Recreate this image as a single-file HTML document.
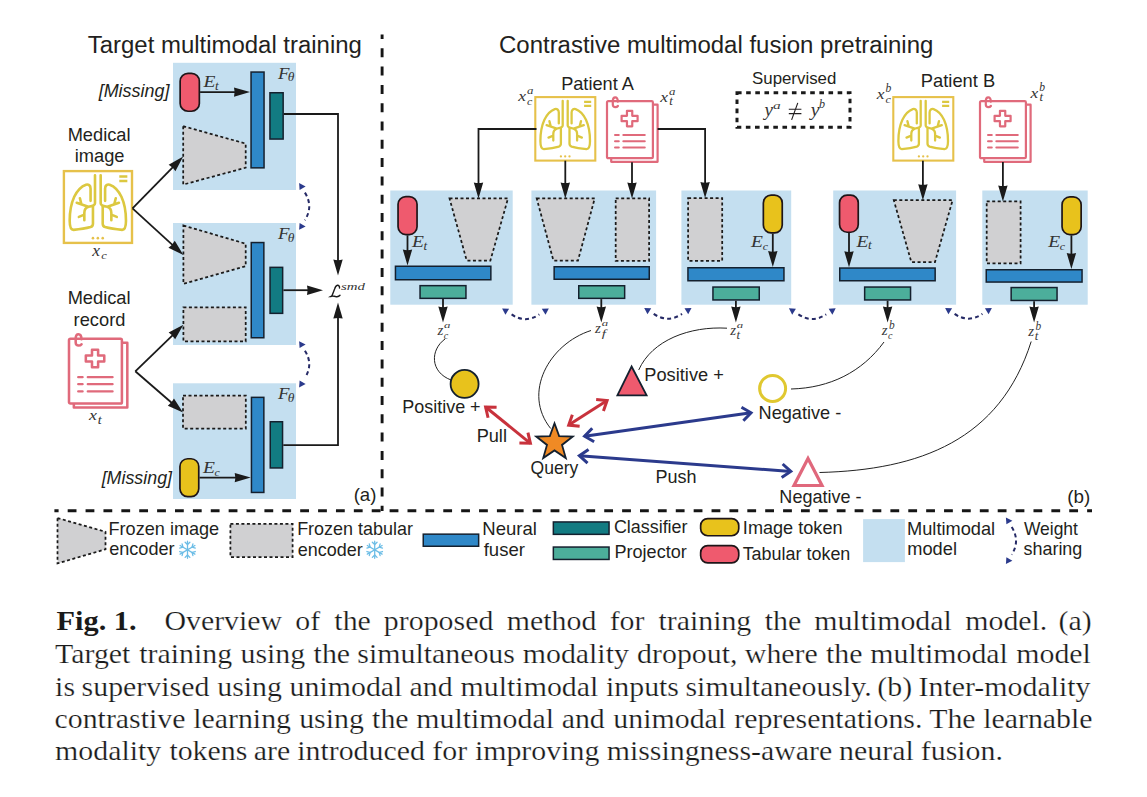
<!DOCTYPE html><html><head><meta charset="utf-8"><title>Fig. 1</title><style>
html,body{margin:0;padding:0;background:#fff;width:1147px;height:797px;overflow:hidden}
svg{display:block}
</style></head><body><svg width="1147" height="797" viewBox="0 0 1147 797"><defs><g id="lungg">
<rect x="0" y="0" width="60" height="63.5" fill="none" stroke="#e6c14a" stroke-width="2.1"/>
<g fill="none" stroke="#dcc840" stroke-width="2.3" stroke-linecap="round" stroke-linejoin="round">
<path d="M48.8,4.7 H55.9 M48.8,8.8 H55.9" stroke-linecap="butt" stroke-width="2.2"/>
<path d="M23.5,26.3 V15.5 C23.5,12.5 21.5,11.5 19.5,12 C11,15 5.1,27 5.1,44 C5.1,49.5 6,52 8.5,52 C14,51.5 20,50.5 23.5,49.5 C25,49 25.6,48 25.6,46.5 V31.4"/>
<path d="M27.4,3.7 V28.5 C27.4,30.5 25.5,31 21.5,31.6 M21.5,31.6 C19,32.5 18,34 18,37 V43.5 M21.5,31.6 L11.3,28 M15.5,29.5 L14.1,24 M18,38.5 L13.2,40.5"/>
<path d="M 36.3 26.3 V 15.5 C 36.3 12.5 38.3 11.5 40.3 12 C 48.8 15 54.7 27 54.7 44 C 54.7 49.5 53.8 52 51.3 52 C 45.8 51.5 39.8 50.5 36.3 49.5 C 34.8 49 34.2 48 34.2 46.5 V 31.4"/>
<path d="M 32.4 3.7 V 28.5 C 32.4 30.5 34.3 31 38.3 31.6 M 38.3 31.6 C 40.8 32.5 41.8 34 41.8 37 V 43.5 M 38.3 31.6 L 48.5 28 M 44.3 29.5 L 45.7 24 M 41.8 38.5 L 46.6 40.5"/>
</g>
<g fill="#e6c14a"><circle cx="25.6" cy="59.3" r="1.15"/><circle cx="29.9" cy="59.3" r="1.15"/><circle cx="34.2" cy="59.3" r="1.15"/></g>
</g><g id="recg">
<g fill="none" stroke="#e06a7b" stroke-width="2.2" stroke-linejoin="round" stroke-linecap="round">
<path d="M46,3.5 H50.6 V60.6 H4.2 V57"/>
<rect x="0" y="0" width="45.9" height="57" rx="1.2" fill="#fff"/>
<path d="M10.8,0.5 C10.8,-2.8 9.8,-3.9 8.2,-3.9 C6.6,-3.9 5.8,-2.8 5.8,0 V3.2 C5.8,5.2 6.9,6 8.3,6 C9.5,6 10.4,5.5 10.9,4.8"/>
<path d="M19.95,9.6 H25.25 V14.65 H30.6 V19.95 H25.25 V25.1 H19.95 V19.95 H14.6 V14.65 H19.95 Z"/>
<path d="M8,33.8 H11.8 M8,40 H11.8 M8,46.4 H11.8 M16.3,33.8 H37.8 M16.3,40 H37.8 M16.3,46.4 H37.8" stroke-width="2.0"/>
</g></g><g id="snowg">
<g stroke="#6cbde6" stroke-width="1.35" fill="none" stroke-linecap="round">
<path d="M0,-9 V9 M-7.8,-4.5 L7.8,4.5 M-7.8,4.5 L7.8,-4.5"/>
<path d="M-2.5,-8 L0,-5.5 L2.5,-8 M-2.5,8 L0,5.5 L2.5,8"/>
<path d="M-8.2,-1.8 L-4.8,-2.8 L-5.7,-6.2 M8.2,1.8 L4.8,2.8 L5.7,6.2"/>
<path d="M-8.2,1.8 L-4.8,2.8 L-5.7,6.2 M8.2,-1.8 L4.8,-2.8 L5.7,-6.2"/>
</g></g></defs><rect x="0.00" y="0.00" width="1147.00" height="797.00" fill="#ffffff" stroke="none" stroke-width="0" />
<text x="87.80" y="52.90" font-family='"Liberation Sans", sans-serif' font-size="23.94" fill="#231f20" style="" >Target multimodal training</text>
<rect x="173.00" y="62.80" width="123.00" height="127.20" fill="#c4dff0" stroke="none" stroke-width="0" />
<rect x="173.00" y="223.00" width="123.00" height="122.00" fill="#c4dff0" stroke="none" stroke-width="0" />
<rect x="173.00" y="383.30" width="123.00" height="115.70" fill="#c4dff0" stroke="none" stroke-width="0" />
<rect x="180.15" y="73.35" width="19.20" height="37.90" rx="7.87" ry="7.87" fill="#ef5a6e" stroke="#1e1518" stroke-width="1.7"/>
<path d="M200.10,92.10 L238.80,92.10" fill="none" stroke="#1a1a1a" stroke-width="1.8" stroke-linejoin="miter"/>
<path d="M250.00,92.10 L234.00,96.80 Q235.28,92.10 234.00,87.40 Z" fill="#1a1a1a"/>
<polygon points="183.20,126.20 245.70,143.60 245.70,167.70 183.20,184.60" fill="#d0d0d2" stroke="#1a1a1a" stroke-width="1.75" stroke-dasharray="3 2.5"/>
<rect x="251.05" y="72.05" width="13.00" height="95.80" fill="#2f88c8" stroke="#14202e" stroke-width="1.5" />
<rect x="269.95" y="92.75" width="13.20" height="46.30" fill="#127b82" stroke="#14202e" stroke-width="1.5" />
<polygon points="183.40,225.50 245.70,243.70 245.70,266.20 183.40,283.80" fill="#d0d0d2" stroke="#1a1a1a" stroke-width="1.75" stroke-dasharray="3 2.5"/>
<rect x="183.40" y="307.40" width="62.30" height="34.00" fill="#d0d0d2" stroke="#1a1a1a" stroke-width="1.75" stroke-dasharray="3 2.5"/>
<rect x="251.25" y="242.55" width="12.60" height="95.20" fill="#2f88c8" stroke="#14202e" stroke-width="1.5" />
<rect x="270.05" y="267.35" width="12.60" height="46.00" fill="#127b82" stroke="#14202e" stroke-width="1.5" />
<rect x="183.00" y="395.50" width="62.80" height="33.10" fill="#d0d0d2" stroke="#1a1a1a" stroke-width="1.75" stroke-dasharray="3 2.5"/>
<rect x="251.45" y="397.35" width="12.40" height="95.10" fill="#2f88c8" stroke="#14202e" stroke-width="1.5" />
<rect x="270.25" y="421.75" width="12.30" height="46.20" fill="#127b82" stroke="#14202e" stroke-width="1.5" />
<rect x="179.95" y="458.75" width="18.80" height="37.80" rx="7.71" ry="7.71" fill="#e8c21c" stroke="#1e1518" stroke-width="1.7"/>
<path d="M199.50,477.60 L239.50,477.60" fill="none" stroke="#1a1a1a" stroke-width="1.8" stroke-linejoin="miter"/>
<path d="M250.70,477.60 L234.70,482.30 Q235.98,477.60 234.70,472.90 Z" fill="#1a1a1a"/>
<path d="M283.90,114.00 L338.00,114.00 L338.00,264.30" fill="none" stroke="#1a1a1a" stroke-width="1.8" stroke-linejoin="miter"/>
<path d="M338.00,275.50 L333.30,259.50 Q338.00,260.78 342.70,259.50 Z" fill="#1a1a1a"/>
<path d="M283.40,290.20 L311.80,290.20" fill="none" stroke="#1a1a1a" stroke-width="1.8" stroke-linejoin="miter"/>
<path d="M323.00,290.20 L307.00,294.90 Q308.28,290.20 307.00,285.50 Z" fill="#1a1a1a"/>
<path d="M283.30,445.20 L338.00,445.20 L338.00,313.80" fill="none" stroke="#1a1a1a" stroke-width="1.8" stroke-linejoin="miter"/>
<path d="M338.00,302.60 L342.70,318.60 Q338.00,317.32 333.30,318.60 Z" fill="#1a1a1a"/>
<path d="M304.90,192.60 Q313.60,206.40 304.90,220.20" fill="none" stroke="#262a66" stroke-width="2.0" stroke-dasharray="4 3.2"/>
<polygon points="299.10,183.10 305.60,186.40 299.60,189.90" fill="#2b3a8c" stroke="none" stroke-width="0" />
<polygon points="299.10,229.70 305.60,226.40 299.60,222.90" fill="#2b3a8c" stroke="none" stroke-width="0" />
<path d="M304.90,350.70 Q313.60,364.30 304.90,377.90" fill="none" stroke="#262a66" stroke-width="2.0" stroke-dasharray="4 3.2"/>
<polygon points="299.10,341.20 305.60,344.50 299.60,348.00" fill="#2b3a8c" stroke="none" stroke-width="0" />
<polygon points="299.10,387.40 305.60,384.10 299.60,380.60" fill="#2b3a8c" stroke="none" stroke-width="0" />
<text x="67.64" y="140.80" font-family='"Liberation Sans", sans-serif' font-size="18.27" fill="#231f20" style="" >Medical</text>
<text x="74.71" y="161.80" font-family='"Liberation Sans", sans-serif' font-size="18.27" fill="#231f20" style="" >image</text>
<use href="#lungg" transform="translate(63.90,171.10) scale(1.1350,1.1307)"/>
<path d="M132.50,208.40 L175.37,164.51" fill="none" stroke="#1a1a1a" stroke-width="1.8" stroke-linejoin="miter"/>
<path d="M183.20,156.50 L175.38,171.23 Q172.91,167.03 168.66,164.66 Z" fill="#1a1a1a"/>
<path d="M132.50,208.40 L175.14,247.44" fill="none" stroke="#1a1a1a" stroke-width="1.8" stroke-linejoin="miter"/>
<path d="M183.40,255.00 L168.43,247.66 Q172.54,245.06 174.77,240.73 Z" fill="#1a1a1a"/>
<text x="67.64" y="303.80" font-family='"Liberation Sans", sans-serif' font-size="18.27" fill="#231f20" style="" >Medical</text>
<text x="73.61" y="325.80" font-family='"Liberation Sans", sans-serif' font-size="18.27" fill="#231f20" style="" >record</text>
<use href="#recg" transform="translate(69.00,338.80) scale(1.1525,1.1351)"/>
<path d="M135.30,371.30 L175.35,332.58" fill="none" stroke="#1a1a1a" stroke-width="1.8" stroke-linejoin="miter"/>
<path d="M183.40,324.80 L175.16,339.30 Q172.82,335.03 168.63,332.54 Z" fill="#1a1a1a"/>
<path d="M135.30,371.30 L174.53,405.27" fill="none" stroke="#1a1a1a" stroke-width="1.8" stroke-linejoin="miter"/>
<path d="M183.00,412.60 L167.83,405.68 Q171.87,402.96 173.98,398.57 Z" fill="#1a1a1a"/>
<text x="98.66" y="96.60" font-family='"Liberation Sans", sans-serif' font-size="17.94" fill="#231f20" style="font-style:italic;" >[Missing]</text>
<text x="101.66" y="483.80" font-family='"Liberation Sans", sans-serif' font-size="17.84" fill="#231f20" style="font-style:italic;" >[Missing]</text>
<text x="353.68" y="501.00" font-family='"Liberation Sans", sans-serif' font-size="18.64" fill="#231f20" style="" >(a)</text>
<line x1="382.10" y1="34.60" x2="382.10" y2="511.00" stroke="#151515" stroke-width="2.9" stroke-dasharray="9 9.3" stroke-dashoffset="4.6"/>
<line x1="54.40" y1="510.80" x2="1092.00" y2="510.80" stroke="#151515" stroke-width="3" stroke-dasharray="8.8 9.085" stroke-dashoffset="4.6"/>
<text x="499.00" y="52.80" font-family='"Liberation Sans", sans-serif' font-size="23.98" fill="#231f20" style="" >Contrastive multimodal fusion pretraining</text>
<text x="561.14" y="89.70" font-family='"Liberation Sans", sans-serif' font-size="18.21" fill="#231f20" style="" >Patient A</text>
<text x="920.83" y="86.90" font-family='"Liberation Sans", sans-serif' font-size="18.34" fill="#231f20" style="" >Patient B</text>
<text x="752.04" y="84.00" font-family='"Liberation Sans", sans-serif' font-size="16.85" fill="#231f20" style="" >Supervised</text>
<rect x="737.00" y="92.70" width="113.00" height="34.50" fill="none" stroke="#1a1a1a" stroke-width="3" stroke-dasharray="4.6 4.55"/>
<use href="#lungg" transform="translate(535.30,97.10) scale(1.0000,1.0000)"/>
<use href="#recg" transform="translate(607.00,101.20) scale(1.0000,1.0000)"/>
<use href="#lungg" transform="translate(893.30,97.10) scale(1.0000,1.0000)"/>
<use href="#recg" transform="translate(980.00,101.20) scale(1.0000,1.0000)"/>
<rect x="390.30" y="190.50" width="122.40" height="114.20" fill="#c4dff0" stroke="none" stroke-width="0" />
<rect x="531.40" y="190.50" width="124.70" height="114.20" fill="#c4dff0" stroke="none" stroke-width="0" />
<rect x="681.40" y="190.50" width="109.80" height="114.20" fill="#c4dff0" stroke="none" stroke-width="0" />
<rect x="833.20" y="190.50" width="122.90" height="114.20" fill="#c4dff0" stroke="none" stroke-width="0" />
<rect x="982.30" y="190.50" width="105.40" height="114.20" fill="#c4dff0" stroke="none" stroke-width="0" />
<rect x="398.05" y="196.55" width="19.00" height="38.00" rx="7.79" ry="7.79" fill="#ef5a6e" stroke="#1e1518" stroke-width="1.7"/>
<path d="M407.50,235.30 L407.50,254.30" fill="none" stroke="#1a1a1a" stroke-width="1.8" stroke-linejoin="miter"/>
<path d="M407.50,265.50 L402.80,249.50 Q407.50,250.78 412.20,249.50 Z" fill="#1a1a1a"/>
<polygon points="449.50,198.40 508.00,198.40 490.40,260.50 466.70,260.50" fill="#d0d0d2" stroke="#1a1a1a" stroke-width="1.75" stroke-dasharray="3 2.5"/>
<rect x="395.45" y="266.25" width="95.40" height="13.50" fill="#2f88c8" stroke="#14202e" stroke-width="1.5" />
<rect x="420.05" y="285.65" width="45.90" height="12.70" fill="#4cae9b" stroke="#14202e" stroke-width="1.5" />
<polygon points="536.70,198.40 594.70,198.40 578.00,260.50 553.40,260.50" fill="#d0d0d2" stroke="#1a1a1a" stroke-width="1.75" stroke-dasharray="3 2.5"/>
<rect x="615.70" y="198.40" width="33.40" height="62.40" fill="#d0d0d2" stroke="#1a1a1a" stroke-width="1.75" stroke-dasharray="3 2.5"/>
<rect x="554.15" y="266.75" width="95.10" height="12.50" fill="#2f88c8" stroke="#14202e" stroke-width="1.5" />
<rect x="578.75" y="285.75" width="45.90" height="12.60" fill="#4cae9b" stroke="#14202e" stroke-width="1.5" />
<rect x="688.10" y="198.10" width="34.10" height="62.70" fill="#d0d0d2" stroke="#1a1a1a" stroke-width="1.75" stroke-dasharray="3 2.5"/>
<rect x="763.35" y="195.15" width="18.90" height="37.70" rx="7.75" ry="7.75" fill="#e8c21c" stroke="#1e1518" stroke-width="1.7"/>
<path d="M772.80,233.60 L772.80,255.80" fill="none" stroke="#1a1a1a" stroke-width="1.8" stroke-linejoin="miter"/>
<path d="M772.80,267.00 L768.10,251.00 Q772.80,252.28 777.50,251.00 Z" fill="#1a1a1a"/>
<rect x="687.95" y="267.75" width="96.00" height="13.00" fill="#2f88c8" stroke="#14202e" stroke-width="1.5" />
<rect x="712.95" y="287.05" width="46.30" height="12.90" fill="#4cae9b" stroke="#14202e" stroke-width="1.5" />
<rect x="839.55" y="195.15" width="18.70" height="37.10" rx="7.67" ry="7.67" fill="#ef5a6e" stroke="#1e1518" stroke-width="1.7"/>
<path d="M849.00,233.00 L849.00,256.10" fill="none" stroke="#1a1a1a" stroke-width="1.8" stroke-linejoin="miter"/>
<path d="M849.00,267.30 L844.30,251.30 Q849.00,252.58 853.70,251.30 Z" fill="#1a1a1a"/>
<polygon points="893.80,200.20 952.60,200.20 935.00,262.00 911.30,262.00" fill="#d0d0d2" stroke="#1a1a1a" stroke-width="1.75" stroke-dasharray="3 2.5"/>
<rect x="839.75" y="268.05" width="95.40" height="12.70" fill="#2f88c8" stroke="#14202e" stroke-width="1.5" />
<rect x="864.65" y="287.05" width="45.90" height="12.90" fill="#4cae9b" stroke="#14202e" stroke-width="1.5" />
<rect x="986.70" y="201.40" width="33.90" height="62.00" fill="#d0d0d2" stroke="#1a1a1a" stroke-width="1.75" stroke-dasharray="3 2.5"/>
<rect x="1062.05" y="196.95" width="19.10" height="37.60" rx="7.83" ry="7.83" fill="#e8c21c" stroke="#1e1518" stroke-width="1.7"/>
<path d="M1071.40,235.30 L1071.40,257.80" fill="none" stroke="#1a1a1a" stroke-width="1.8" stroke-linejoin="miter"/>
<path d="M1071.40,269.00 L1066.70,253.00 Q1071.40,254.28 1076.10,253.00 Z" fill="#1a1a1a"/>
<rect x="986.25" y="269.75" width="95.80" height="12.30" fill="#2f88c8" stroke="#14202e" stroke-width="1.5" />
<rect x="1011.15" y="287.55" width="45.90" height="12.90" fill="#4cae9b" stroke="#14202e" stroke-width="1.5" />
<path d="M536.50,129.00 L478.50,129.00 L478.50,187.20" fill="none" stroke="#1a1a1a" stroke-width="1.8" stroke-linejoin="miter"/>
<path d="M478.50,198.40 L473.80,182.40 Q478.50,183.68 483.20,182.40 Z" fill="#1a1a1a"/>
<path d="M565.30,160.70 L565.30,187.20" fill="none" stroke="#1a1a1a" stroke-width="1.8" stroke-linejoin="miter"/>
<path d="M565.30,198.40 L560.60,182.40 Q565.30,183.68 570.00,182.40 Z" fill="#1a1a1a"/>
<path d="M632.00,162.20 L632.00,187.20" fill="none" stroke="#1a1a1a" stroke-width="1.8" stroke-linejoin="miter"/>
<path d="M632.00,198.40 L627.30,182.40 Q632.00,183.68 636.70,182.40 Z" fill="#1a1a1a"/>
<path d="M657.60,129.00 L705.10,129.00 L705.10,186.90" fill="none" stroke="#1a1a1a" stroke-width="1.8" stroke-linejoin="miter"/>
<path d="M705.10,198.10 L700.40,182.10 Q705.10,183.38 709.80,182.10 Z" fill="#1a1a1a"/>
<path d="M922.90,160.70 L922.90,189.00" fill="none" stroke="#1a1a1a" stroke-width="1.8" stroke-linejoin="miter"/>
<path d="M922.90,200.20 L918.20,184.20 Q922.90,185.48 927.60,184.20 Z" fill="#1a1a1a"/>
<path d="M1002.90,162.00 L1002.90,190.20" fill="none" stroke="#1a1a1a" stroke-width="1.8" stroke-linejoin="miter"/>
<path d="M1002.90,201.40 L998.20,185.40 Q1002.90,186.68 1007.60,185.40 Z" fill="#1a1a1a"/>
<path d="M443.00,299.10 L443.00,311.30" fill="none" stroke="#1a1a1a" stroke-width="1.8" stroke-linejoin="miter"/>
<path d="M443.00,322.50 L438.30,306.50 Q443.00,307.78 447.70,306.50 Z" fill="#1a1a1a"/>
<path d="M601.30,299.10 L601.30,311.30" fill="none" stroke="#1a1a1a" stroke-width="1.8" stroke-linejoin="miter"/>
<path d="M601.30,322.50 L596.60,306.50 Q601.30,307.78 606.00,306.50 Z" fill="#1a1a1a"/>
<path d="M735.90,300.70 L735.90,311.30" fill="none" stroke="#1a1a1a" stroke-width="1.8" stroke-linejoin="miter"/>
<path d="M735.90,322.50 L731.20,306.50 Q735.90,307.78 740.60,306.50 Z" fill="#1a1a1a"/>
<path d="M887.60,300.70 L887.60,311.30" fill="none" stroke="#1a1a1a" stroke-width="1.8" stroke-linejoin="miter"/>
<path d="M887.60,322.50 L882.90,306.50 Q887.60,307.78 892.30,306.50 Z" fill="#1a1a1a"/>
<path d="M1034.10,301.20 L1034.10,311.30" fill="none" stroke="#1a1a1a" stroke-width="1.8" stroke-linejoin="miter"/>
<path d="M1034.10,322.50 L1029.40,306.50 Q1034.10,307.78 1038.80,306.50 Z" fill="#1a1a1a"/>
<path d="M511.60,314.40 Q525.45,323.90 539.30,314.40" fill="none" stroke="#262a66" stroke-width="2.0" stroke-dasharray="4 3.2"/>
<polygon points="502.10,308.40 509.10,308.80 505.40,314.80" fill="#2b3a8c" stroke="none" stroke-width="0" />
<polygon points="548.80,308.40 541.80,308.80 545.50,314.80" fill="#2b3a8c" stroke="none" stroke-width="0" />
<path d="M653.70,313.90 Q667.85,323.40 682.00,313.90" fill="none" stroke="#262a66" stroke-width="2.0" stroke-dasharray="4 3.2"/>
<polygon points="644.20,307.90 651.20,308.30 647.50,314.30" fill="#2b3a8c" stroke="none" stroke-width="0" />
<polygon points="691.50,307.90 684.50,308.30 688.20,314.30" fill="#2b3a8c" stroke="none" stroke-width="0" />
<path d="M798.40,314.30 Q812.30,323.80 826.20,314.30" fill="none" stroke="#262a66" stroke-width="2.0" stroke-dasharray="4 3.2"/>
<polygon points="788.90,308.30 795.90,308.70 792.20,314.70" fill="#2b3a8c" stroke="none" stroke-width="0" />
<polygon points="835.70,308.30 828.70,308.70 832.40,314.70" fill="#2b3a8c" stroke="none" stroke-width="0" />
<path d="M954.60,313.90 Q968.50,323.40 982.40,313.90" fill="none" stroke="#262a66" stroke-width="2.0" stroke-dasharray="4 3.2"/>
<polygon points="945.10,307.90 952.10,308.30 948.40,314.30" fill="#2b3a8c" stroke="none" stroke-width="0" />
<polygon points="991.90,307.90 984.90,308.30 988.60,314.30" fill="#2b3a8c" stroke="none" stroke-width="0" />
<path d="M445,339 C430,350 430,372 451,380" stroke="#222" stroke-width="1" fill="none"/>
<path d="M591,330.5 C549,344 522,393 550.7,428.5" stroke="#222" stroke-width="1" fill="none"/>
<path d="M727,328.2 C690,326 652,340 638.7,370" stroke="#222" stroke-width="1" fill="none"/>
<path d="M884,342 C862,372 830,388 791,389" stroke="#222" stroke-width="1" fill="none"/>
<path d="M1031.2,341.5 C1000,440 920,470 819.5,472.5" stroke="#222" stroke-width="1" fill="none"/>
<circle cx="464.6" cy="383.9" r="14" fill="#e8c21c" stroke="#14202e" stroke-width="1.8"/>
<text x="402.16" y="412.70" font-family='"Liberation Sans", sans-serif' font-size="17.99" fill="#231f20" style="" >Positive +</text>
<polygon points="631.60,366.50 646.60,395.30 617.40,395.30" fill="#ef5a6e" stroke="#14202e" stroke-width="1.8" />
<text x="644.34" y="380.60" font-family='"Liberation Sans", sans-serif' font-size="18.23" fill="#231f20" style="" >Positive +</text>
<circle cx="772.6" cy="388.4" r="13" fill="none" stroke="#e0c830" stroke-width="3"/>
<text x="758.55" y="419.00" font-family='"Liberation Sans", sans-serif' font-size="18.17" fill="#231f20" style="" >Negative -</text>
<polygon points="808.00,458.50 822.00,485.50 794.00,485.50" fill="none" stroke="#e0687c" stroke-width="3.2" />
<text x="779.36" y="503.00" font-family='"Liberation Sans", sans-serif' font-size="18.04" fill="#231f20" style="" >Negative -</text>
<polygon points="554.50,423.30 559.14,436.11 572.76,436.57 562.01,444.94 565.79,458.03 554.50,450.40 543.21,458.03 546.99,444.94 536.24,436.57 549.86,436.11" fill="#f08a24" stroke="#14202e" stroke-width="1.8" />
<text x="530.61" y="474.20" font-family='"Liberation Sans", sans-serif' font-size="17.53" fill="#231f20" style="" >Query</text>
<text x="476.64" y="442.20" font-family='"Liberation Sans", sans-serif' font-size="18.22" fill="#231f20" style="" >Pull</text>
<text x="655.56" y="482.60" font-family='"Liberation Sans", sans-serif' font-size="18.03" fill="#231f20" style="" >Push</text>
<line x1="485.60" y1="407.00" x2="530.40" y2="443.30" stroke="#c8323c" stroke-width="3" />
<path d="M527.93,432.58 L530.40,443.30 L519.40,443.10" fill="none" stroke="#c8323c" stroke-width="3" stroke-linejoin="miter" stroke-linecap="butt"/>
<path d="M488.07,417.72 L485.60,407.00 L496.60,407.20" fill="none" stroke="#c8323c" stroke-width="3" stroke-linejoin="miter" stroke-linecap="butt"/>
<line x1="568.70" y1="425.10" x2="607.10" y2="400.60" stroke="#c8323c" stroke-width="3" />
<path d="M596.15,399.55 L607.10,400.60 L603.44,410.97" fill="none" stroke="#c8323c" stroke-width="3" stroke-linejoin="miter" stroke-linecap="butt"/>
<path d="M579.65,426.15 L568.70,425.10 L572.36,414.73" fill="none" stroke="#c8323c" stroke-width="3" stroke-linejoin="miter" stroke-linecap="butt"/>
<line x1="584.60" y1="436.20" x2="751.00" y2="412.80" stroke="#2b3a8c" stroke-width="3" />
<path d="M741.47,407.30 L751.00,412.80 L743.36,420.71" fill="none" stroke="#2b3a8c" stroke-width="3" stroke-linejoin="miter" stroke-linecap="butt"/>
<path d="M594.13,441.70 L584.60,436.20 L592.24,428.29" fill="none" stroke="#2b3a8c" stroke-width="3" stroke-linejoin="miter" stroke-linecap="butt"/>
<line x1="579.40" y1="455.70" x2="790.80" y2="471.40" stroke="#2b3a8c" stroke-width="3" />
<path d="M782.66,464.00 L790.80,471.40 L781.65,477.51" fill="none" stroke="#2b3a8c" stroke-width="3" stroke-linejoin="miter" stroke-linecap="butt"/>
<path d="M587.54,463.10 L579.40,455.70 L588.55,449.59" fill="none" stroke="#2b3a8c" stroke-width="3" stroke-linejoin="miter" stroke-linecap="butt"/>
<text x="1067.17" y="503.00" font-family='"Liberation Sans", sans-serif' font-size="18.82" fill="#231f20" style="" >(b)</text>
<polygon points="57.50,518.00 105.50,531.80 105.50,549.30 57.50,563.40" fill="#d0d0d2" stroke="#1a1a1a" stroke-width="1.75" stroke-dasharray="3 2.5"/>
<text x="108.55" y="534.80" font-family='"Liberation Sans", sans-serif' font-size="18.10" fill="#231f20" style="" >Frozen image</text>
<text x="109.19" y="555.20" font-family='"Liberation Sans", sans-serif' font-size="18.10" fill="#231f20" style="" >encoder</text>
<use href="#snowg" transform="translate(187.50,549.80) scale(0.950)"/>
<rect x="230.40" y="523.90" width="62.20" height="33.20" fill="#d0d0d2" stroke="#1a1a1a" stroke-width="1.75" stroke-dasharray="3 2.5"/>
<text x="297.16" y="535.20" font-family='"Liberation Sans", sans-serif' font-size="17.97" fill="#231f20" style="" >Frozen tabular</text>
<text x="297.79" y="555.60" font-family='"Liberation Sans", sans-serif' font-size="17.97" fill="#231f20" style="" >encoder</text>
<use href="#snowg" transform="translate(374.70,549.80) scale(0.950)"/>
<rect x="423.25" y="534.15" width="55.40" height="12.10" fill="#2f88c8" stroke="#14202e" stroke-width="1.5" />
<text x="482.32" y="535.00" font-family='"Liberation Sans", sans-serif' font-size="18.54" fill="#231f20" style="" >Neural</text>
<text x="483.72" y="555.60" font-family='"Liberation Sans", sans-serif' font-size="18.54" fill="#231f20" style="" >fuser</text>
<rect x="553.35" y="521.95" width="55.70" height="12.40" fill="#127b82" stroke="#14202e" stroke-width="1.5" />
<rect x="553.35" y="547.05" width="55.70" height="12.40" fill="#4cae9b" stroke="#14202e" stroke-width="1.5" />
<text x="613.90" y="532.90" font-family='"Liberation Sans", sans-serif' font-size="17.92" fill="#231f20" style="" >Classifier</text>
<text x="614.45" y="558.00" font-family='"Liberation Sans", sans-serif' font-size="18.08" fill="#231f20" style="" >Projector</text>
<rect x="700.65" y="518.55" width="38.10" height="17.20" rx="7.05" ry="7.05" fill="#e8c21c" stroke="#1e1518" stroke-width="1.7"/>
<rect x="700.65" y="545.65" width="38.10" height="17.20" rx="7.05" ry="7.05" fill="#ef5a6e" stroke="#1e1518" stroke-width="1.7"/>
<text x="742.87" y="533.70" font-family='"Liberation Sans", sans-serif' font-size="18.11" fill="#231f20" style="" >Image token</text>
<text x="742.65" y="559.70" font-family='"Liberation Sans", sans-serif' font-size="17.94" fill="#231f20" style="" >Tabular token</text>
<rect x="863.10" y="519.10" width="41.80" height="43.00" fill="#c4dff0" stroke="none" stroke-width="0" />
<text x="907.04" y="535.00" font-family='"Liberation Sans", sans-serif' font-size="18.23" fill="#231f20" style="" >Multimodal</text>
<text x="907.32" y="555.30" font-family='"Liberation Sans", sans-serif' font-size="18.23" fill="#231f20" style="" >model</text>
<path d="M1011.70,527.00 Q1020.40,540.80 1011.70,554.60" fill="none" stroke="#262a66" stroke-width="2.0" stroke-dasharray="4 3.2"/>
<polygon points="1005.90,517.50 1012.40,520.80 1006.40,524.30" fill="#2b3a8c" stroke="none" stroke-width="0" />
<polygon points="1005.90,564.10 1012.40,560.80 1006.40,557.30" fill="#2b3a8c" stroke="none" stroke-width="0" />
<text x="1023.91" y="535.00" font-family='"Liberation Sans", sans-serif' font-size="17.47" fill="#231f20" style="" >Weight</text>
<text x="1023.46" y="555.30" font-family='"Liberation Sans", sans-serif' font-size="17.96" fill="#231f20" style="" >sharing</text>
<text x="56.55" y="630.1" font-family='"Liberation Serif", serif' font-weight="bold" font-size="26.9" fill="#1a1a1a" textLength="80.0" lengthAdjust="spacingAndGlyphs">Fig. 1.</text>
<text x="164.41" y="630.1" font-family='"Liberation Serif", serif' font-size="26.9" fill="#1a1a1a" stroke="#fff" stroke-width="0.22" textLength="117.73" lengthAdjust="spacingAndGlyphs">Overview</text>
<text x="295.29" y="630.1" font-family='"Liberation Serif", serif' font-size="26.9" fill="#1a1a1a" stroke="#fff" stroke-width="0.22" textLength="24.87" lengthAdjust="spacingAndGlyphs">of</text>
<text x="334.36" y="630.1" font-family='"Liberation Serif", serif' font-size="26.9" fill="#1a1a1a" stroke="#fff" stroke-width="0.22" textLength="36.48" lengthAdjust="spacingAndGlyphs">the</text>
<text x="383.87" y="630.1" font-family='"Liberation Serif", serif' font-size="26.9" fill="#1a1a1a" stroke="#fff" stroke-width="0.22" textLength="109.46" lengthAdjust="spacingAndGlyphs">proposed</text>
<text x="506.85" y="630.1" font-family='"Liberation Serif", serif' font-size="26.9" fill="#1a1a1a" stroke="#fff" stroke-width="0.22" textLength="89.56" lengthAdjust="spacingAndGlyphs">method</text>
<text x="609.66" y="630.1" font-family='"Liberation Serif", serif' font-size="26.9" fill="#1a1a1a" stroke="#fff" stroke-width="0.22" textLength="34.82" lengthAdjust="spacingAndGlyphs">for</text>
<text x="658.43" y="630.1" font-family='"Liberation Serif", serif' font-size="26.9" fill="#1a1a1a" stroke="#fff" stroke-width="0.22" textLength="92.87" lengthAdjust="spacingAndGlyphs">training</text>
<text x="764.83" y="630.1" font-family='"Liberation Serif", serif' font-size="26.9" fill="#1a1a1a" stroke="#fff" stroke-width="0.22" textLength="36.48" lengthAdjust="spacingAndGlyphs">the</text>
<text x="814.20" y="630.1" font-family='"Liberation Serif", serif' font-size="26.9" fill="#1a1a1a" stroke="#fff" stroke-width="0.22" textLength="137.67" lengthAdjust="spacingAndGlyphs">multimodal</text>
<text x="965.24" y="630.1" font-family='"Liberation Serif", serif' font-size="26.9" fill="#1a1a1a" stroke="#fff" stroke-width="0.22" textLength="82.10" lengthAdjust="spacingAndGlyphs">model.</text>
<text x="1058.50" y="630.1" font-family='"Liberation Serif", serif' font-size="26.9" fill="#1a1a1a" stroke="#fff" stroke-width="0.22" textLength="33.14" lengthAdjust="spacingAndGlyphs">(a)</text>
<text x="55.10" y="662.8" font-family='"Liberation Serif", serif' font-size="26.9" fill="#1a1a1a" stroke="#fff" stroke-width="0.22" textLength="75.29" lengthAdjust="spacingAndGlyphs">Target</text>
<text x="139.29" y="662.8" font-family='"Liberation Serif", serif' font-size="26.9" fill="#1a1a1a" stroke="#fff" stroke-width="0.22" textLength="92.87" lengthAdjust="spacingAndGlyphs">training</text>
<text x="240.49" y="662.8" font-family='"Liberation Serif", serif' font-size="26.9" fill="#1a1a1a" stroke="#fff" stroke-width="0.22" textLength="64.70" lengthAdjust="spacingAndGlyphs">using</text>
<text x="313.63" y="662.8" font-family='"Liberation Serif", serif' font-size="26.9" fill="#1a1a1a" stroke="#fff" stroke-width="0.22" textLength="36.48" lengthAdjust="spacingAndGlyphs">the</text>
<text x="357.36" y="662.8" font-family='"Liberation Serif", serif' font-size="26.9" fill="#1a1a1a" stroke="#fff" stroke-width="0.22" textLength="157.57" lengthAdjust="spacingAndGlyphs">simultaneous</text>
<text x="522.76" y="662.8" font-family='"Liberation Serif", serif' font-size="26.9" fill="#1a1a1a" stroke="#fff" stroke-width="0.22" textLength="106.15" lengthAdjust="spacingAndGlyphs">modality</text>
<text x="637.11" y="662.8" font-family='"Liberation Serif", serif' font-size="26.9" fill="#1a1a1a" stroke="#fff" stroke-width="0.22" textLength="100.35" lengthAdjust="spacingAndGlyphs">dropout,</text>
<text x="744.88" y="662.8" font-family='"Liberation Serif", serif' font-size="26.9" fill="#1a1a1a" stroke="#fff" stroke-width="0.22" textLength="72.94" lengthAdjust="spacingAndGlyphs">where</text>
<text x="825.93" y="662.8" font-family='"Liberation Serif", serif' font-size="26.9" fill="#1a1a1a" stroke="#fff" stroke-width="0.22" textLength="36.48" lengthAdjust="spacingAndGlyphs">the</text>
<text x="870.26" y="662.8" font-family='"Liberation Serif", serif' font-size="26.9" fill="#1a1a1a" stroke="#fff" stroke-width="0.22" textLength="137.67" lengthAdjust="spacingAndGlyphs">multimodal</text>
<text x="1016.25" y="662.8" font-family='"Liberation Serif", serif' font-size="26.9" fill="#1a1a1a" stroke="#fff" stroke-width="0.22" textLength="74.63" lengthAdjust="spacingAndGlyphs">model</text>
<text x="55.10" y="695.5" font-family='"Liberation Serif", serif' font-size="26.9" fill="#1a1a1a" stroke="#fff" stroke-width="0.22" textLength="19.91" lengthAdjust="spacingAndGlyphs">is</text>
<text x="81.63" y="695.5" font-family='"Liberation Serif", serif' font-size="26.9" fill="#1a1a1a" stroke="#fff" stroke-width="0.22" textLength="127.70" lengthAdjust="spacingAndGlyphs">supervised</text>
<text x="217.28" y="695.5" font-family='"Liberation Serif", serif' font-size="26.9" fill="#1a1a1a" stroke="#fff" stroke-width="0.22" textLength="64.70" lengthAdjust="spacingAndGlyphs">using</text>
<text x="289.64" y="695.5" font-family='"Liberation Serif", serif' font-size="26.9" fill="#1a1a1a" stroke="#fff" stroke-width="0.22" textLength="112.79" lengthAdjust="spacingAndGlyphs">unimodal</text>
<text x="409.62" y="695.5" font-family='"Liberation Serif", serif' font-size="26.9" fill="#1a1a1a" stroke="#fff" stroke-width="0.22" textLength="43.11" lengthAdjust="spacingAndGlyphs">and</text>
<text x="460.63" y="695.5" font-family='"Liberation Serif", serif' font-size="26.9" fill="#1a1a1a" stroke="#fff" stroke-width="0.22" textLength="137.67" lengthAdjust="spacingAndGlyphs">multimodal</text>
<text x="605.99" y="695.5" font-family='"Liberation Serif", serif' font-size="26.9" fill="#1a1a1a" stroke="#fff" stroke-width="0.22" textLength="73.00" lengthAdjust="spacingAndGlyphs">inputs</text>
<text x="685.51" y="695.5" font-family='"Liberation Serif", serif' font-size="26.9" fill="#1a1a1a" stroke="#fff" stroke-width="0.22" textLength="186.32" lengthAdjust="spacingAndGlyphs">simultaneously.</text>
<text x="877.31" y="695.5" font-family='"Liberation Serif", serif' font-size="26.9" fill="#1a1a1a" stroke="#fff" stroke-width="0.22" textLength="34.82" lengthAdjust="spacingAndGlyphs">(b)</text>
<text x="918.61" y="695.5" font-family='"Liberation Serif", serif' font-size="26.9" fill="#1a1a1a" stroke="#fff" stroke-width="0.22" textLength="171.86" lengthAdjust="spacingAndGlyphs">Inter-modality</text>
<text x="54.51" y="728.2" font-family='"Liberation Serif", serif' font-size="26.9" fill="#1a1a1a" stroke="#fff" stroke-width="0.22" textLength="130.99" lengthAdjust="spacingAndGlyphs">contrastive</text>
<text x="193.18" y="728.2" font-family='"Liberation Serif", serif' font-size="26.9" fill="#1a1a1a" stroke="#fff" stroke-width="0.22" textLength="97.83" lengthAdjust="spacingAndGlyphs">learning</text>
<text x="299.15" y="728.2" font-family='"Liberation Serif", serif' font-size="26.9" fill="#1a1a1a" stroke="#fff" stroke-width="0.22" textLength="64.70" lengthAdjust="spacingAndGlyphs">using</text>
<text x="372.14" y="728.2" font-family='"Liberation Serif", serif' font-size="26.9" fill="#1a1a1a" stroke="#fff" stroke-width="0.22" textLength="36.48" lengthAdjust="spacingAndGlyphs">the</text>
<text x="416.30" y="728.2" font-family='"Liberation Serif", serif' font-size="26.9" fill="#1a1a1a" stroke="#fff" stroke-width="0.22" textLength="137.67" lengthAdjust="spacingAndGlyphs">multimodal</text>
<text x="561.69" y="728.2" font-family='"Liberation Serif", serif' font-size="26.9" fill="#1a1a1a" stroke="#fff" stroke-width="0.22" textLength="43.11" lengthAdjust="spacingAndGlyphs">and</text>
<text x="613.33" y="728.2" font-family='"Liberation Serif", serif' font-size="26.9" fill="#1a1a1a" stroke="#fff" stroke-width="0.22" textLength="112.79" lengthAdjust="spacingAndGlyphs">unimodal</text>
<text x="734.23" y="728.2" font-family='"Liberation Serif", serif' font-size="26.9" fill="#1a1a1a" stroke="#fff" stroke-width="0.22" textLength="188.21" lengthAdjust="spacingAndGlyphs">representations.</text>
<text x="929.19" y="728.2" font-family='"Liberation Serif", serif' font-size="26.9" fill="#1a1a1a" stroke="#fff" stroke-width="0.22" textLength="46.42" lengthAdjust="spacingAndGlyphs">The</text>
<text x="983.21" y="728.2" font-family='"Liberation Serif", serif' font-size="26.9" fill="#1a1a1a" stroke="#fff" stroke-width="0.22" textLength="109.40" lengthAdjust="spacingAndGlyphs">learnable</text>
<text x="55.10" y="760.3" font-family='"Liberation Serif", serif' font-size="26.9" fill="#1a1a1a" stroke="#fff" stroke-width="0.22" textLength="106.15" lengthAdjust="spacingAndGlyphs">modality</text>
<text x="169.40" y="760.3" font-family='"Liberation Serif", serif' font-size="26.9" fill="#1a1a1a" stroke="#fff" stroke-width="0.22" textLength="77.96" lengthAdjust="spacingAndGlyphs">tokens</text>
<text x="253.85" y="760.3" font-family='"Liberation Serif", serif' font-size="26.9" fill="#1a1a1a" stroke="#fff" stroke-width="0.22" textLength="36.45" lengthAdjust="spacingAndGlyphs">are</text>
<text x="297.23" y="760.3" font-family='"Liberation Serif", serif' font-size="26.9" fill="#1a1a1a" stroke="#fff" stroke-width="0.22" textLength="127.69" lengthAdjust="spacingAndGlyphs">introduced</text>
<text x="432.28" y="760.3" font-family='"Liberation Serif", serif' font-size="26.9" fill="#1a1a1a" stroke="#fff" stroke-width="0.22" textLength="34.82" lengthAdjust="spacingAndGlyphs">for</text>
<text x="474.92" y="760.3" font-family='"Liberation Serif", serif' font-size="26.9" fill="#1a1a1a" stroke="#fff" stroke-width="0.22" textLength="124.41" lengthAdjust="spacingAndGlyphs">improving</text>
<text x="606.69" y="760.3" font-family='"Liberation Serif", serif' font-size="26.9" fill="#1a1a1a" stroke="#fff" stroke-width="0.22" textLength="225.54" lengthAdjust="spacingAndGlyphs">missingness-aware</text>
<text x="839.08" y="760.3" font-family='"Liberation Serif", serif' font-size="26.9" fill="#1a1a1a" stroke="#fff" stroke-width="0.22" textLength="74.60" lengthAdjust="spacingAndGlyphs">neural</text>
<text x="920.84" y="760.3" font-family='"Liberation Serif", serif' font-size="26.9" fill="#1a1a1a" stroke="#fff" stroke-width="0.22" textLength="82.11" lengthAdjust="spacingAndGlyphs">fusion.</text>
<text x="203.50" y="87.30" font-family='"Liberation Serif", serif' font-size="17.10" fill="#333" style="font-style:italic;" textLength="11.91" lengthAdjust="spacingAndGlyphs" >E</text>
<text x="215.01" y="89.58" font-family='"Liberation Serif", serif' font-size="11.83" fill="#333" style="font-style:italic;" textLength="3.67" lengthAdjust="spacingAndGlyphs" >t</text>
<text x="202.90" y="473.10" font-family='"Liberation Serif", serif' font-size="17.10" fill="#333" style="font-style:italic;" textLength="11.91" lengthAdjust="spacingAndGlyphs" >E</text>
<text x="214.54" y="475.59" font-family='"Liberation Serif", serif' font-size="10.63" fill="#333" style="font-style:italic;" textLength="5.26" lengthAdjust="spacingAndGlyphs" >c</text>
<text x="412.10" y="247.40" font-family='"Liberation Serif", serif' font-size="17.10" fill="#333" style="font-style:italic;" textLength="11.91" lengthAdjust="spacingAndGlyphs" >E</text>
<text x="423.61" y="249.68" font-family='"Liberation Serif", serif' font-size="11.83" fill="#333" style="font-style:italic;" textLength="3.67" lengthAdjust="spacingAndGlyphs" >t</text>
<text x="751.10" y="247.20" font-family='"Liberation Serif", serif' font-size="17.10" fill="#333" style="font-style:italic;" textLength="11.91" lengthAdjust="spacingAndGlyphs" >E</text>
<text x="762.74" y="249.69" font-family='"Liberation Serif", serif' font-size="10.63" fill="#333" style="font-style:italic;" textLength="5.26" lengthAdjust="spacingAndGlyphs" >c</text>
<text x="856.50" y="247.20" font-family='"Liberation Serif", serif' font-size="17.10" fill="#333" style="font-style:italic;" textLength="11.91" lengthAdjust="spacingAndGlyphs" >E</text>
<text x="868.01" y="249.48" font-family='"Liberation Serif", serif' font-size="11.83" fill="#333" style="font-style:italic;" textLength="3.67" lengthAdjust="spacingAndGlyphs" >t</text>
<text x="1048.20" y="247.20" font-family='"Liberation Serif", serif' font-size="17.10" fill="#333" style="font-style:italic;" textLength="11.91" lengthAdjust="spacingAndGlyphs" >E</text>
<text x="1059.84" y="249.69" font-family='"Liberation Serif", serif' font-size="10.63" fill="#333" style="font-style:italic;" textLength="5.26" lengthAdjust="spacingAndGlyphs" >c</text>
<text x="278.09" y="78.60" font-family='"Liberation Serif", serif' font-size="16.95" fill="#333" style="font-style:italic;" textLength="11.44" lengthAdjust="spacingAndGlyphs" >F</text>
<text x="287.72" y="81.48" font-family='"Liberation Serif", serif' font-size="11.55" fill="#333" style="font-style:italic;" textLength="6.67" lengthAdjust="spacingAndGlyphs" >θ</text>
<text x="278.09" y="239.00" font-family='"Liberation Serif", serif' font-size="16.95" fill="#333" style="font-style:italic;" textLength="11.44" lengthAdjust="spacingAndGlyphs" >F</text>
<text x="287.72" y="241.88" font-family='"Liberation Serif", serif' font-size="11.55" fill="#333" style="font-style:italic;" textLength="6.67" lengthAdjust="spacingAndGlyphs" >θ</text>
<text x="278.09" y="399.10" font-family='"Liberation Serif", serif' font-size="16.95" fill="#333" style="font-style:italic;" textLength="11.44" lengthAdjust="spacingAndGlyphs" >F</text>
<text x="287.72" y="401.98" font-family='"Liberation Serif", serif' font-size="11.55" fill="#333" style="font-style:italic;" textLength="6.67" lengthAdjust="spacingAndGlyphs" >θ</text>
<text x="92.28" y="255.50" font-family='"Liberation Serif", serif' font-size="15.65" fill="#333" style="font-style:italic;" textLength="7.78" lengthAdjust="spacingAndGlyphs" >x</text>
<text x="101.22" y="259.49" font-family='"Liberation Serif", serif' font-size="11.04" fill="#333" style="font-style:italic;" textLength="5.59" lengthAdjust="spacingAndGlyphs" >c</text>
<text x="89.08" y="419.70" font-family='"Liberation Serif", serif' font-size="15.00" fill="#333" style="font-style:italic;" textLength="7.98" lengthAdjust="spacingAndGlyphs" >x</text>
<text x="97.87" y="423.69" font-family='"Liberation Serif", serif' font-size="11.48" fill="#333" style="font-style:italic;" textLength="3.89" lengthAdjust="spacingAndGlyphs" >t</text>
<text x="518.18" y="100.90" font-family='"Liberation Serif", serif' font-size="15.00" fill="#333" style="font-style:italic;" textLength="7.78" lengthAdjust="spacingAndGlyphs" >x</text>
<text x="527.02" y="94.30" font-family='"Liberation Serif", serif' font-size="10.00" fill="#333" style="font-style:italic;" textLength="6.40" lengthAdjust="spacingAndGlyphs" >a</text>
<text x="527.04" y="104.70" font-family='"Liberation Serif", serif' font-size="10.00" fill="#333" style="font-style:italic;" textLength="5.37" lengthAdjust="spacingAndGlyphs" >c</text>
<text x="660.28" y="101.60" font-family='"Liberation Serif", serif' font-size="15.00" fill="#333" style="font-style:italic;" textLength="7.78" lengthAdjust="spacingAndGlyphs" >x</text>
<text x="669.12" y="95.00" font-family='"Liberation Serif", serif' font-size="10.00" fill="#333" style="font-style:italic;" textLength="6.40" lengthAdjust="spacingAndGlyphs" >a</text>
<text x="669.32" y="104.98" font-family='"Liberation Serif", serif' font-size="11.83" fill="#333" style="font-style:italic;" textLength="3.56" lengthAdjust="spacingAndGlyphs" >t</text>
<text x="876.78" y="99.10" font-family='"Liberation Serif", serif' font-size="15.00" fill="#333" style="font-style:italic;" textLength="7.78" lengthAdjust="spacingAndGlyphs" >x</text>
<text x="885.53" y="92.08" font-family='"Liberation Serif", serif' font-size="11.91" fill="#333" style="font-style:italic;" textLength="5.81" lengthAdjust="spacingAndGlyphs" >b</text>
<text x="885.64" y="102.90" font-family='"Liberation Serif", serif' font-size="10.00" fill="#333" style="font-style:italic;" textLength="5.37" lengthAdjust="spacingAndGlyphs" >c</text>
<text x="1030.48" y="97.60" font-family='"Liberation Serif", serif' font-size="15.00" fill="#333" style="font-style:italic;" textLength="7.78" lengthAdjust="spacingAndGlyphs" >x</text>
<text x="1039.23" y="90.58" font-family='"Liberation Serif", serif' font-size="11.91" fill="#333" style="font-style:italic;" textLength="5.81" lengthAdjust="spacingAndGlyphs" >b</text>
<text x="1039.52" y="100.98" font-family='"Liberation Serif", serif' font-size="11.83" fill="#333" style="font-style:italic;" textLength="3.56" lengthAdjust="spacingAndGlyphs" >t</text>
<text x="437.45" y="334.60" font-family='"Liberation Serif", serif' font-size="15.43" fill="#3a3a3a" style="font-style:italic;" textLength="5.86" lengthAdjust="spacingAndGlyphs" >z</text>
<text x="444.12" y="327.51" font-family='"Liberation Serif", serif' font-size="8.54" fill="#3a3a3a" style="font-style:italic;" textLength="6.40" lengthAdjust="spacingAndGlyphs" >a</text>
<text x="443.70" y="338.60" font-family='"Liberation Serif", serif' font-size="10.21" fill="#3a3a3a" style="font-style:italic;" textLength="4.49" lengthAdjust="spacingAndGlyphs" >c</text>
<text x="595.05" y="333.40" font-family='"Liberation Serif", serif' font-size="15.43" fill="#3a3a3a" style="font-style:italic;" textLength="5.86" lengthAdjust="spacingAndGlyphs" >z</text>
<text x="601.72" y="326.31" font-family='"Liberation Serif", serif' font-size="8.54" fill="#3a3a3a" style="font-style:italic;" textLength="6.40" lengthAdjust="spacingAndGlyphs" >a</text>
<text x="601.85" y="337.12" font-family='"Liberation Serif", serif' font-size="11.09" fill="#3a3a3a" style="font-style:italic;" textLength="4.17" lengthAdjust="spacingAndGlyphs" >f</text>
<text x="730.15" y="334.60" font-family='"Liberation Serif", serif' font-size="15.43" fill="#3a3a3a" style="font-style:italic;" textLength="5.86" lengthAdjust="spacingAndGlyphs" >z</text>
<text x="736.82" y="327.51" font-family='"Liberation Serif", serif' font-size="8.54" fill="#3a3a3a" style="font-style:italic;" textLength="6.40" lengthAdjust="spacingAndGlyphs" >a</text>
<text x="736.62" y="338.58" font-family='"Liberation Serif", serif' font-size="11.83" fill="#3a3a3a" style="font-style:italic;" textLength="3.56" lengthAdjust="spacingAndGlyphs" >t</text>
<text x="881.85" y="335.20" font-family='"Liberation Serif", serif' font-size="15.43" fill="#3a3a3a" style="font-style:italic;" textLength="5.86" lengthAdjust="spacingAndGlyphs" >z</text>
<text x="888.94" y="329.09" font-family='"Liberation Serif", serif' font-size="11.49" fill="#3a3a3a" style="font-style:italic;" textLength="5.70" lengthAdjust="spacingAndGlyphs" >b</text>
<text x="888.10" y="339.20" font-family='"Liberation Serif", serif' font-size="10.21" fill="#3a3a3a" style="font-style:italic;" textLength="4.49" lengthAdjust="spacingAndGlyphs" >c</text>
<text x="1028.35" y="335.70" font-family='"Liberation Serif", serif' font-size="15.43" fill="#3a3a3a" style="font-style:italic;" textLength="5.86" lengthAdjust="spacingAndGlyphs" >z</text>
<text x="1035.44" y="329.59" font-family='"Liberation Serif", serif' font-size="11.49" fill="#3a3a3a" style="font-style:italic;" textLength="5.70" lengthAdjust="spacingAndGlyphs" >b</text>
<text x="1034.82" y="339.68" font-family='"Liberation Serif", serif' font-size="11.83" fill="#3a3a3a" style="font-style:italic;" textLength="3.56" lengthAdjust="spacingAndGlyphs" >t</text>
<text x="764.62" y="116.49" font-family='"Liberation Serif", serif' font-size="18.67" fill="#333" style="font-style:italic;" textLength="8.46" lengthAdjust="spacingAndGlyphs" >y</text>
<text x="773.04" y="108.51" font-family='"Liberation Serif", serif' font-size="9.38" fill="#333" style="font-style:italic;" textLength="7.67" lengthAdjust="spacingAndGlyphs" >a</text>
<path d="M788.8,109.2 H801.4 M788.8,113.6 H801.4 M797.8,102.9 L791.6,119.9" fill="none" stroke="#231f20" stroke-width="1.15" />
<text x="810.68" y="116.21" font-family='"Liberation Serif", serif' font-size="18.07" fill="#333" style="font-style:italic;" textLength="8.79" lengthAdjust="spacingAndGlyphs" >y</text>
<text x="819.02" y="108.08" font-family='"Liberation Serif", serif' font-size="12.34" fill="#333" style="font-style:italic;" textLength="6.05" lengthAdjust="spacingAndGlyphs" >b</text>
<path d="M339.5,288 C339.8,286.3 338.8,285.2 337.4,285.3 C336,285.5 335.2,287 334.6,289 L332.4,294.8 C332,296 330.8,296.6 330.5,296.6 C331.5,296 333.5,295.8 335.5,296.5 C337.5,297 339,296.5 340,295.3" fill="none" stroke="#1a1a1a" stroke-width="1.4" stroke-linecap="round"/>
<text x="341.08" y="289.99" font-family='"Liberation Serif", serif' font-size="11.06" fill="#333" style="font-style:italic;" textLength="23.94" lengthAdjust="spacingAndGlyphs" >smd</text></svg></body></html>
